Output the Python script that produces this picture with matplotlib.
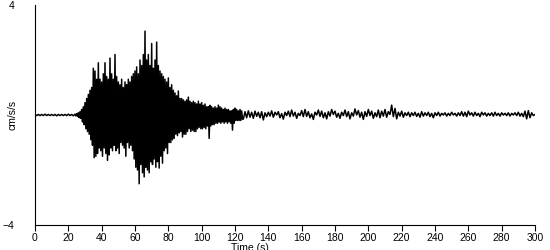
import numpy as np
import matplotlib
matplotlib.use('Agg')
import matplotlib.pyplot as plt

# Acceleration trace (cm/s/s).
# Quiet parts: one sample per second. Strong motion (24-124 s): a peak and a
# trough per second, so two samples per second.
pre_event = [
    0.02, -0.02, 0.02, -0.02, 0.02, -0.02, 0.03, -0.02, 0.02, -0.02,
    0.02, -0.02, 0.02, -0.03, 0.02, -0.02, 0.02, -0.02, 0.02, -0.02,
    0.03, -0.02, 0.02, -0.03,
]
strong_motion = [
    0.03, -0.03,  0.05, -0.05,  0.08, -0.1,  0.12, -0.12,   # 24-27
    0.2, -0.25,   0.3, -0.35,   0.45, -0.5,  0.6, -0.6,     # 28-31
    0.75, -0.7,   0.9, -0.9,    1.0, -1.1,   1.7, -1.55,    # 32-35
    1.6, -1.5,    1.3, -1.4,    1.9, -1.2,   1.3, -1.3,     # 36-39
    1.2, -1.5,    1.5, -1.2,    1.9, -1.4,   1.4, -1.65,    # 40-43
    1.3, -1.45,   2.07, -1.2,   1.5, -1.3,   1.3, -1.1,     # 44-47
    2.2, -1.3,    1.4, -1.2,    1.2, -1.4,   1.1, -1.0,     # 48-51
    1.3, -1.1,    1.0, -1.2,    1.2, -1.5,   1.1, -1.0,     # 52-55
    1.3, -1.2,    1.2, -1.1,    1.4, -1.3,   1.5, -1.6,     # 56-59
    1.6, -1.9,    1.75, -2.0,   1.5, -2.5,   2.0, -1.8,     # 60-63
    1.8, -2.1,    2.2, -2.25,   3.05, -1.9,  2.0, -2.0,     # 64-67
    2.2, -2.1,    1.8, -1.7,    2.6, -1.8,   1.7, -1.6,     # 68-71
    2.0, -1.9,    2.65, -1.7,   1.8, -1.93,  1.6, -1.5,     # 72-75
    1.5, -1.75,   1.4, -1.3,    1.3, -1.2,   1.2, -1.4,     # 76-79
    1.35, -1.0,   1.0, -1.0,    1.1, -0.9,   0.9, -0.85,    # 80-83
    0.8, -0.7,    0.7, -0.75,   0.87, -0.65, 0.6, -0.6,     # 84-87
    0.6, -0.8,    0.55, -0.7,   0.5, -0.7,   0.55, -0.6,    # 88-91
    0.65, -0.5,   0.5, -0.6,    0.45, -0.55, 0.5, -0.6,     # 92-95
    0.45, -0.6,   0.4, -0.5,    0.5, -0.45,  0.4, -0.5,     # 96-99
    0.45, -0.5,   0.35, -0.45,  0.4, -0.5,   0.3, -0.4,     # 100-103
    0.3, -0.85,   0.35, -0.4,   0.3, -0.35,  0.25, -0.35,   # 104-107
    0.3, -0.3,    0.25, -0.3,   0.36, -0.26, 0.3, -0.3,     # 108-111
    0.25, -0.25,  0.2, -0.3,    0.25, -0.25, 0.2, -0.3,     # 112-115
    0.2, -0.25,   0.15, -0.3,   0.15, -0.55, 0.2, -0.3,     # 116-119
    0.25, -0.2,   0.2, -0.2,    0.15, -0.2,  0.2, -0.2,     # 120-123
    0.15, -0.15,                                            # 124
]
coda = [
    -0.15, 0.12, -0.1, 0.15, -0.08, 0.1, -0.12, 0.14, -0.05, 0.1,
    -0.1, 0.12, -0.18, 0.08, -0.06, 0.1, -0.04, 0.15, -0.08, 0.1,
    0.0, 0.12, -0.1, 0.05, -0.15, 0.1, -0.02, 0.14, -0.06, 0.18,
    -0.04, 0.1, -0.12, 0.06, -0.02, 0.16, -0.06, 0.2, -0.05, 0.12,
    -0.1, 0.04, -0.16, 0.1, 0.0, 0.18, -0.05, 0.14, -0.1, 0.08,
    -0.14, 0.12, -0.04, 0.2, 0.02, 0.14, -0.08, 0.06, -0.12, 0.1,
    -0.02, 0.18, -0.06, 0.12, -0.14, 0.08, -0.04, 0.22, 0.0, 0.16,
    -0.08, 0.1, -0.16, 0.12, -0.05, 0.2, -0.02, 0.14, -0.12, 0.08,
    -0.06, 0.18, -0.1, 0.14, -0.04, 0.2, -0.08, 0.12, 0.02, 0.36,
    -0.06, 0.24, -0.14, 0.1, -0.04, 0.14, -0.08, 0.08, -0.02, 0.1,
    -0.06, 0.08, -0.02, 0.1, -0.05, 0.06, -0.08, 0.12, -0.04, 0.08,
    -0.02, 0.1, -0.06, 0.06, -0.1, 0.08, -0.02, 0.1, -0.04, 0.06,
    0.0, 0.08, -0.04, 0.06, -0.02, 0.1, 0.0, 0.06, -0.04, 0.08,
    -0.02, 0.12, -0.04, 0.1, -0.06, 0.14, 0.0, 0.08, -0.04, 0.1,
    -0.02, 0.06, -0.06, 0.1, 0.0, 0.08, -0.04, 0.06, -0.02, 0.08,
    -0.04, 0.1, -0.02, 0.06, -0.04, 0.08, 0.0, 0.06, -0.02, 0.08,
    -0.04, 0.06, 0.0, 0.08, -0.02, 0.1, -0.04, 0.06, -0.06, 0.14,
    -0.14, 0.16, -0.1, 0.08, -0.02, 0.02,
]

# sample times matching the three stretches above
time_s = np.concatenate([
    np.arange(0, 24, 1.0),
    np.arange(24, 125, 0.5),
    np.arange(125, 301, 1.0),
])
accel = np.array(pre_event + strong_motion + coda)
assert len(accel) == len(time_s), (len(accel), len(time_s))

x_ticks = list(range(0, 301, 20))
y_ticks = [-4, 4]

# narrow sans to get close to the small bitmap-style font of the original
plt.rcParams['font.family'] = ['Liberation Sans Narrow', 'Liberation Sans', 'DejaVu Sans']

fig = plt.figure(figsize=(5.5, 2.5), dpi=100)
ax = fig.add_axes([35 / 550, 25 / 250, 500 / 550, 220 / 250])

ax.plot(time_s, accel, color='black', linewidth=1.1)

ax.set_xlim(0, 300)
ax.set_ylim(-4, 4)
ax.set_xticks(x_ticks)
ax.set_yticks(y_ticks)
ax.tick_params(axis='x', length=4, width=0.8, pad=2, labelsize=7.5)
ax.tick_params(axis='y', length=0, pad=15, labelsize=7.5)

ax.spines['top'].set_visible(False)
ax.spines['right'].set_visible(False)
ax.spines['left'].set_linewidth(0.8)
ax.spines['bottom'].set_linewidth(0.8)

ax.set_xlabel('Time (s)', fontsize=7.5, va='top')
ax.xaxis.set_label_coords(0.43, -0.08)
ax.set_ylabel('cm/s/s', fontsize=7.5)
ax.yaxis.set_label_coords(-0.034, 0.5)

fig.savefig('out.png', dpi=100)
